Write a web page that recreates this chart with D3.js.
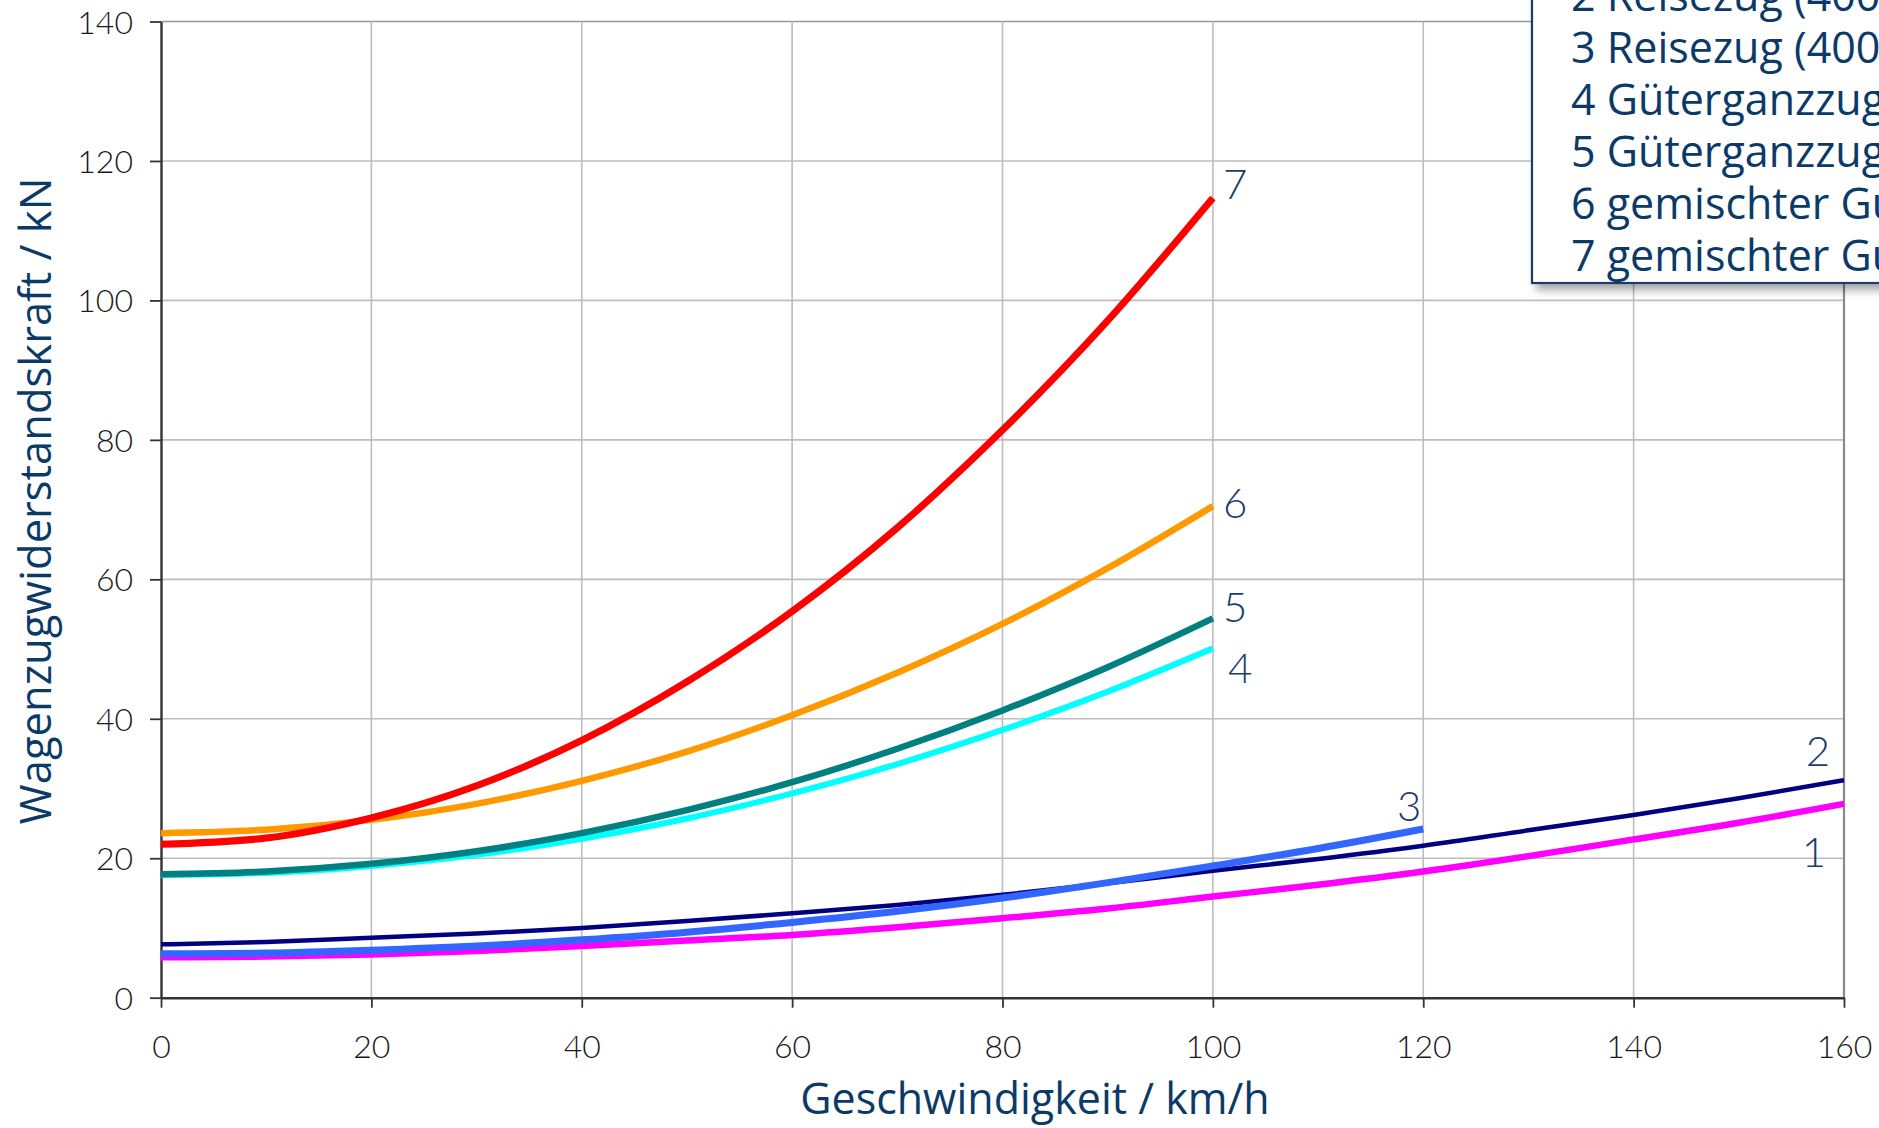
<!DOCTYPE html>
<html>
<head>
<meta charset="utf-8">
<script src="https://cdn.jsdelivr.net/npm/d3@7"></script>
<style>
  html, body { margin: 0; padding: 0; background: #fff; overflow: hidden; }
  svg { display: block; }
</style>
</head>
<body>
<svg id="chart" width="1879" height="1128"></svg>
<script>
// ---- data ----
const speeds10 = [0, 10, 20, 30, 40, 50, 60, 70, 80, 90, 100, 110, 120, 130, 140, 150, 160];
const seriesNames = ["1", "2", "3", "4", "5", "6", "7"];
const legendLabels = [
  "1 Reisezug (400 t, Drehgestellwagen)",
  "2 Reisezug (400 t, zweiachsige Wagen)",
  "3 Reisezug (400 t, Doppelstockwagen)",
  "4 Güterganzzug (leer)",
  "5 Güterganzzug (beladen)",
  "6 gemischter Güterzug (leer)",
  "7 gemischter Güterzug (beladen)"
];
const s1 = [5.8, 5.9, 6.2, 6.7, 7.4, 8.2, 9.0, 10.1, 11.4, 12.8, 14.5, 16.2, 18.1, 20.3, 22.7, 25.1, 27.8];
const s2 = [7.65, 8.0, 8.6, 9.2, 10.0, 11.0, 12.1, 13.3, 14.75, 16.4, 18.2, 19.9, 21.8, 24.0, 26.2, 28.6, 31.2];
const s3 = [6.3, 6.4, 6.8, 7.4, 8.3, 9.4, 10.8, 12.4, 14.3, 16.5, 18.9, 21.4, 24.2];
const s4 = [17.6, 17.9, 18.9, 20.5, 22.8, 25.7, 29.3, 33.5, 38.4, 43.9, 50.1];
const s5 = [17.7, 18.1, 19.2, 21.0, 23.6, 26.9, 30.9, 35.7, 41.2, 47.4, 54.4];
const s6 = [23.6, 24.1, 25.5, 27.8, 31.1, 35.3, 40.5, 46.6, 53.6, 61.6, 70.5];
const s7 = [22.0, 22.9, 25.8, 30.4, 36.9, 45.3, 55.4, 67.4, 81.4, 97.1, 114.7];
const xTicks = [0, 20, 40, 60, 80, 100, 120, 140, 160];
const yTicks = [0, 20, 40, 60, 80, 100, 120, 140];
const xTitle = "Geschwindigkeit / km/h";
const yTitle = "Wagenzugwiderstandskraft / kN";

// ---- styles ----
const colors = ["#ff00ff", "#000080", "#3366ff", "#00ffff", "#008080", "#ff9900", "#ff0000"];
const widths = [6.5, 4.5, 7, 6, 6.5, 6.5, 7];
// label offsets relative to line end point: [dx, dy, anchor]
const labelOffsets = [
  [-18, 63, "end"], [-14, -14, "end"], [-2, -8, "end"],
  [15, 35, "start"], [10, 4, "start"], [10, 12, "start"], [10, 1, "start"]
];

const svg = d3.select("#chart");
const x = d3.scaleLinear().domain([0, 160]).range([161, 1844]);
const y = d3.scaleLinear().domain([0, 140]).range([997.7, 21.5]);

const tickFont = "Lato, 'Open Sans', sans-serif";
const textFont = "'Open Sans', 'Noto Sans', sans-serif";
const blue = "#0b3a68";

// grid
const grid = svg.append("g");
grid.selectAll("line.h").data(yTicks.filter(d => d > 0)).join("line")
  .attr("x1", x(0)).attr("x2", x(160))
  .attr("y1", d => y(d)).attr("y2", d => y(d))
  .attr("stroke", d => d === 140 ? "#999" : "#bdbdbd").attr("stroke-width", 1.6);
grid.selectAll("line.v").data(xTicks.filter(d => d > 0)).join("line")
  .attr("y1", y(0)).attr("y2", y(140))
  .attr("x1", d => x(d)).attr("x2", d => x(d))
  .attr("stroke", d => d === 160 ? "#8a8a8a" : "#bdbdbd").attr("stroke-width", d => d === 160 ? 2.2 : 1.6);

// axes
const yAxis = svg.append("g").attr("transform", `translate(${x(0)},0)`)
  .call(d3.axisLeft(y).tickValues(yTicks).tickSize(11).tickPadding(17).tickSizeOuter(0));
const xAxis = svg.append("g").attr("transform", `translate(0,${y(0)})`)
  .call(d3.axisBottom(x).tickValues(xTicks).tickSize(10).tickSizeOuter(0));
[yAxis, xAxis].forEach(a => {
  a.select(".domain").attr("stroke", "#333").attr("stroke-width", 2.4);
  a.selectAll(".tick line").attr("stroke", "#333").attr("stroke-width", 1.8);
  a.selectAll(".tick text").attr("fill", "#1a1a1a")
    .style("font-family", tickFont).style("font-weight", 300).style("font-size", "32px");
});
yAxis.selectAll(".tick text").attr("dy", "0.36em");
xAxis.selectAll(".tick text").attr("y", 60).attr("dy", 0);

// lines
const allSeries = [s1, s2, s3, s4, s5, s6, s7];
const line = d3.line().x(d => x(d[0])).y(d => y(d[1])).curve(d3.curveMonotoneX);
const linesG = svg.append("g");
allSeries.forEach((s, i) => {
  const pts = s.map((v, j) => [speeds10[j], v]);
  linesG.append("path").datum(pts)
    .attr("d", line).attr("fill", "none")
    .attr("stroke", colors[i]).attr("stroke-width", widths[i]);
  const last = pts[pts.length - 1];
  const off = labelOffsets[i];
  svg.append("text")
    .attr("x", x(last[0]) + off[0]).attr("y", y(last[1]) + off[1])
    .attr("text-anchor", off[2])
    .attr("fill", "#1b3d6b")
    .style("font-family", tickFont).style("font-weight", 300).style("font-size", "42px")
    .text(seriesNames[i]);
});

// axis titles
svg.append("text")
  .attr("x", 1035).attr("y", 1114).attr("text-anchor", "middle")
  .attr("fill", blue).style("font-family", textFont).style("font-size", "43px")
  .text(xTitle);
svg.append("text")
  .attr("transform", "translate(51,501) rotate(-90)").attr("text-anchor", "middle")
  .attr("fill", blue).style("font-family", textFont).style("font-size", "43.5px")
  .text(yTitle);

// legend
const defs = svg.append("defs");
const f = defs.append("filter").attr("id", "shadow").attr("x", "-10%").attr("y", "-10%").attr("width", "130%").attr("height", "130%");
f.append("feDropShadow").attr("dx", 5).attr("dy", 6).attr("stdDeviation", 4).attr("flood-color", "#000").attr("flood-opacity", 0.35);
const lg = svg.append("g");
lg.append("rect").attr("x", 1532).attr("y", -20).attr("width", 420).attr("height", 303)
  .attr("fill", "#fff").attr("stroke", "#1b3d6b").attr("stroke-width", 2.2)
  .attr("filter", "url(#shadow)");
lg.selectAll("text").data(legendLabels).join("text")
  .attr("x", 1571).attr("y", (d, i) => -41 + i * 52)
  .attr("fill", blue).style("font-family", textFont).style("font-size", "43px")
  .text(d => d);
</script>
</body>
</html>
